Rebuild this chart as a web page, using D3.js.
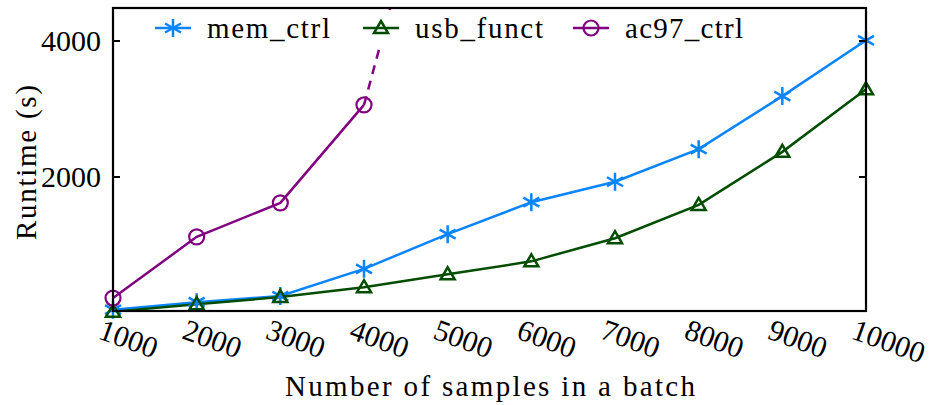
<!DOCTYPE html>
<html>
<head>
<meta charset="UTF-8">
<script src="https://d3js.org/d3.v7.min.js"></script>
</head>
<body style="margin:0">
<script>
// data
var samples = [1000, 2000, 3000, 4000, 5000, 6000, 7000, 8000, 9000, 10000];
var memCtrl = [50, 160, 250, 650, 1160, 1630, 1930, 2410, 3190, 4010];
var usbFunct = [20, 130, 235, 380, 570, 760, 1100, 1590, 2370, 3290];
var ac97Ctrl = [220, 1120, 1620, 3060];
var ac97Proj = [[4000, 3060], [5000, 7600]];
var yTicks = [2000, 4000];
var seriesNames = ["mem_ctrl", "usb_funct", "ac97_ctrl"];
var colors = ["#0a84ff", "#004d00", "#800080"];

var width = 930, height = 405;
var svg = d3.select("body").append("svg").attr("width", width).attr("height", height);

var x = d3.scaleLinear().domain([1000, 10000]).range([113, 866]);
var y = d3.scaleLinear().domain([30, 4485]).range([311, 8]);

svg.append("clipPath").attr("id", "plotclip")
  .append("rect").attr("x", 113).attr("y", 8).attr("width", 753).attr("height", 303);

var line = d3.line().x(function(d){ return x(d[0]); }).y(function(d){ return y(d[1]); });

function pairs(vals){ return vals.map(function(v, i){ return [samples[i], v]; }); }

var series = [pairs(memCtrl), pairs(usbFunct), pairs(ac97Ctrl)];

var g = svg.append("g").attr("clip-path", "url(#plotclip)");

// projected ac97 segment
g.append("path").datum(ac97Proj).attr("d", line)
  .attr("fill", "none").attr("stroke", colors[2]).attr("stroke-width", 2.5)
  .attr("stroke-dasharray", "9,7");

series.forEach(function(s, i){
  g.append("path").datum(s).attr("d", line)
    .attr("fill", "none").attr("stroke", colors[i]).attr("stroke-width", 2.5);
});

function marker(sel, kind, color){
  if (kind == 0) {
    sel.append("path").attr("d", "M0,-9V9M-8,-4.5L8,4.5M-8,4.5L8,-4.5")
      .attr("stroke", color).attr("stroke-width", 2.5).attr("fill", "none");
  } else if (kind == 1) {
    sel.append("path").attr("d", "M0,-7L7,5H-7Z")
      .attr("stroke", color).attr("stroke-width", 2.5).attr("fill", "none");
  } else {
    sel.append("circle").attr("r", 7.5)
      .attr("stroke", color).attr("stroke-width", 2.2).attr("fill", "none");
  }
}

series.forEach(function(s, i){
  s.forEach(function(d){
    var m = svg.append("g").attr("transform", "translate(" + x(d[0]) + "," + y(d[1]) + ")");
    marker(m, i, colors[i]);
  });
});

// frame
svg.append("rect").attr("x", 113).attr("y", 8).attr("width", 753).attr("height", 303)
  .attr("fill", "none").attr("stroke", "#000").attr("stroke-width", 2.2);

function label(sel, size){
  return sel.style("font", size + "px 'Liberation Serif', 'DejaVu Serif', serif");
}

// y ticks, inward on both sides
yTicks.forEach(function(t){
  svg.append("line").attr("x1", 113).attr("x2", 120).attr("y1", y(t)).attr("y2", y(t))
    .attr("stroke", "#000").attr("stroke-width", 2);
  svg.append("line").attr("x1", 859).attr("x2", 866).attr("y1", y(t)).attr("y2", y(t))
    .attr("stroke", "#000").attr("stroke-width", 2);
  label(svg.append("text"), 30).attr("x", 101).attr("y", y(t) + 10)
    .attr("text-anchor", "end").text(String(t));
});

// x tick labels, tilted
samples.forEach(function(t){
  label(svg.append("text"), 30)
    .attr("transform", "translate(" + (x(t) - 16) + "," + 338 + ") rotate(20)")
    .text(String(t));
});

// axis titles
label(svg.append("text"), 29).attr("x", 285).attr("y", 396)
  .attr("textLength", 410).attr("lengthAdjust", "spacing").text("Number of samples in a batch");
label(svg.append("text"), 29).attr("transform", "translate(36,240) rotate(-90)")
  .attr("textLength", 155).attr("lengthAdjust", "spacing").text("Runtime (s)");

// legend
var legX = [155, 363, 573];
var legW = [123, 128, 118];
var leg = svg.append("g");
leg.append("rect").attr("x", 140).attr("y", 10).attr("width", 620).attr("height", 35).attr("fill", "#fff");
seriesNames.forEach(function(n, i){
  leg.append("line").attr("x1", legX[i]).attr("x2", legX[i] + 36).attr("y1", 28).attr("y2", 28)
    .attr("stroke", colors[i]).attr("stroke-width", 2.5);
  var m = leg.append("g").attr("transform", "translate(" + (legX[i] + 18) + ",28)");
  marker(m, i, colors[i]);
  label(leg.append("text"), 29).attr("x", legX[i] + 52).attr("y", 38)
    .attr("textLength", legW[i]).attr("lengthAdjust", "spacing").text(n);
});
</script>
</body>
</html>
